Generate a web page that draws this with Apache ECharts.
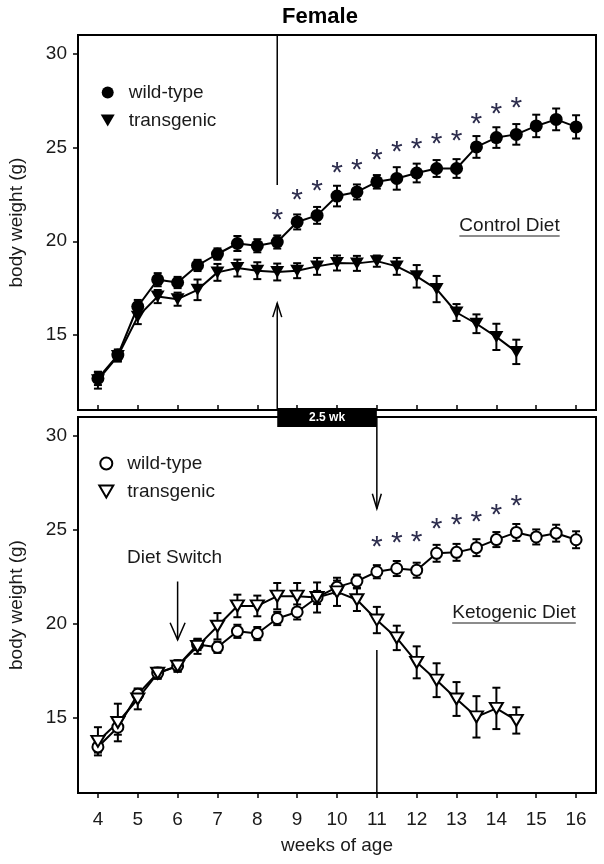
<!DOCTYPE html>
<html><head><meta charset="utf-8">
<script src="https://cdn.jsdelivr.net/npm/echarts@6/dist/echarts.min.js"></script>
<style>html,body{margin:0;padding:0;background:#fff}#c{width:604px;height:864px}</style>
</head><body><div id="c"></div>
<script>
// ---------- data ----------
const weeks = [4,4.5,5,5.5,6,6.5,7,7.5,8,8.5,9,9.5,10,10.5,11,11.5,12,12.5,13,13.5,14,14.5,15,15.5,16];
const tickWeeks = [4,5,6,7,8,9,10,11,12,13,14,15,16];
const tickWeights = [15,20,25,30];

// Control diet (top panel)
const wtControl    = [12.68,13.93,16.52,17.95,17.80,18.71,19.32,19.88,19.76,19.96,21.03,21.38,22.41,22.63,23.17,23.35,23.64,23.88,23.88,25.03,25.53,25.70,26.15,26.50,26.10];
const wtControlErr = [0.35,0.30,0.35,0.35,0.30,0.30,0.30,0.40,0.35,0.35,0.40,0.45,0.55,0.40,0.36,0.60,0.50,0.45,0.50,0.58,0.55,0.55,0.60,0.58,0.62];
const tgControl    = [12.59,13.88,15.98,17.05,16.91,17.41,18.34,18.57,18.43,18.36,18.43,18.66,18.84,18.82,18.94,18.66,18.13,17.45,16.20,15.60,14.90,14.10];
const tgControlErr = [0.45,0.30,0.40,0.35,0.35,0.55,0.45,0.45,0.45,0.45,0.40,0.45,0.40,0.40,0.30,0.45,0.60,0.70,0.45,0.50,0.70,0.65];
const starWeeksControl = [8.5,9,9.5,10,10.5,11,11.5,12,12.5,13,13.5,14,14.5];
const starYControl     = [21.54,22.57,23.07,24.03,24.20,24.74,25.13,25.31,25.56,25.73,26.66,27.16,27.49];

// Ketogenic diet (bottom panel)
const wtKeto    = [13.45,14.50,16.25,17.38,17.76,18.90,18.75,19.60,19.48,20.28,20.63,21.40,21.95,22.27,22.77,22.94,22.85,23.75,23.80,24.05,24.48,24.86,24.62,24.82,24.47];
const wtKetoErr = [0.30,0.40,0.30,0.25,0.30,0.30,0.30,0.35,0.35,0.35,0.40,0.35,0.35,0.35,0.35,0.40,0.40,0.45,0.45,0.45,0.40,0.45,0.40,0.45,0.45];
const tgKeto    = [13.75,14.75,16.00,17.37,17.75,18.80,19.87,20.95,20.95,21.47,21.47,21.40,21.70,21.28,20.20,19.25,17.95,17.00,16.00,15.05,15.50,14.86];
const tgKetoErr = [0.75,1.00,0.55,0.30,0.30,0.40,0.70,0.60,0.55,0.70,0.70,0.80,0.75,0.60,0.70,0.65,0.85,0.90,0.90,1.10,1.10,0.70];
const starWeeksKeto = [11,11.5,12,12.5,13,13.5,14,14.5];
const starYKeto     = [24.47,24.68,24.73,25.44,25.62,25.80,26.19,26.63];

// annotation anchors (data units)
const switchWeek = 8.5, tgDeclineWeek = 11, dietSwitchWeek = 6;

// ---------- chart ----------
const FONT = '"Liberation Sans", Arial, sans-serif';
const TXT = '#1a1a1a';
const TRI = 'path://M0,0 L14,0 L7,12 Z';
const chart = echarts.init(document.getElementById('c'), null, {renderer:'canvas'});

const pairs = (xs, ys) => ys.map((v,i)=>[xs[i], v]);
const errData = (xs, ys, es) => ys.map((v,i)=>[xs[i], v, es[i]]);

function errSeries(idx, data){
  return {type:'custom', xAxisIndex:idx, yAxisIndex:idx, data, encode:{x:0,y:1}, z:3, silent:true,
    renderItem(params, api){
      const x=api.value(0), y=api.value(1), e=api.value(2);
      const t=api.coord([x,y+e]), b=api.coord([x,y-e]);
      const cw=4, st={stroke:'#000', lineWidth:2};
      return {type:'group', children:[
        {type:'line', shape:{x1:t[0],y1:t[1],x2:b[0],y2:b[1]}, style:st},
        {type:'line', shape:{x1:t[0]-cw,y1:t[1],x2:t[0]+cw,y2:t[1]}, style:st},
        {type:'line', shape:{x1:b[0]-cw,y1:b[1],x2:b[0]+cw,y2:b[1]}, style:st}]};
    }};
}
function starSeries(idx, xs, ys){
  return {type:'scatter', xAxisIndex:idx, yAxisIndex:idx, data:pairs(xs,ys), symbolSize:2, silent:true,
    itemStyle:{color:'rgba(0,0,0,0)'}, z:6,
    label:{show:true, position:'inside', formatter:'*', fontSize:30, fontFamily:FONT, color:'#2e2e4e', opacity:1, offset:[0,8]}};
}
const st = {stroke:'#000', lineWidth:1.5};
function chevron(p, dir, hw, h){ // dir -1 = tip pointing up, +1 = down
  return {type:'polyline', shape:{points:[[p[0]-hw, p[1]-dir*h],[p[0],p[1]],[p[0]+hw, p[1]-dir*h]]}, style:{stroke:'#000', lineWidth:1.5, fill:null}};
}
const annotTop = {type:'custom', xAxisIndex:0, yAxisIndex:0, data:[[switchWeek, 20]], z:10, silent:true, clip:false,
  renderItem(params, api){
    const a=api.coord([switchWeek,31]), b=api.coord([switchWeek,23.0]);
    const c=api.coord([switchWeek,11]), d=api.coord([switchWeek,16.7]);
    const q=api.coord([tgDeclineWeek,11]);
    return {type:'group', children:[
      {type:'line', shape:{x1:a[0],y1:a[1],x2:b[0],y2:b[1]}, style:st},
      {type:'line', shape:{x1:c[0],y1:c[1],x2:d[0],y2:d[1]}, style:st},
      chevron(d, -1, 4.5, 14),
      {type:'rect', shape:{x:c[0], y:c[1]-2, width:q[0]-c[0], height:19}, style:{fill:'#000'}},
      {type:'text', x:(c[0]+q[0])/2, y:c[1]+7.5, style:{text:'2.5 wk', fill:'#fff', font:'bold 12px '+FONT, align:'center', verticalAlign:'middle'}}
    ]};
  }};
const annotBottom = {type:'custom', xAxisIndex:1, yAxisIndex:1, data:[[tgDeclineWeek, 20]], z:10, silent:true, clip:false,
  renderItem(params, api){
    const a=api.coord([tgDeclineWeek,31]), b=api.coord([tgDeclineWeek,26.12]);
    const c=api.coord([tgDeclineWeek,18.6]), d=api.coord([tgDeclineWeek,11]);
    const e=api.coord([dietSwitchWeek,22.25]), f=api.coord([dietSwitchWeek,19.15]);
    return {type:'group', children:[
      {type:'line', shape:{x1:a[0],y1:a[1],x2:b[0],y2:b[1]}, style:st},
      chevron(b, 1, 4.5, 15),
      {type:'line', shape:{x1:c[0],y1:c[1],x2:d[0],y2:d[1]}, style:st},
      {type:'line', shape:{x1:e[0],y1:e[1],x2:f[0],y2:f[1]}, style:st},
      chevron(f, 1, 7.5, 17)
    ]};
  }};

const ctx = document.createElement('canvas').getContext('2d');
function textW(t, f){ ctx.font = f; return ctx.measureText(t).width; }
const lblFont = '19px '+FONT;
function underlined(text, cx, cy){
  const w = textW(text, lblFont);
  return [
    {type:'text', x:cx, y:cy, style:{text, font:lblFont, fill:TXT, align:'center', verticalAlign:'middle'}},
    {type:'line', shape:{x1:cx-w/2, y1:cy+10, x2:cx+w/2, y2:cy+10}, style:{stroke:TXT, lineWidth:1.2}}
  ];
}

function xAxis(idx, bottom){
  return {gridIndex:idx, type:'value', min:3.5, max:16.5,
    axisLine:{show:true, lineStyle:{color:'#000', width:2}},
    axisTick:{show:true, inside:!bottom, length:5, customValues:tickWeeks, lineStyle:{color:'#000', width:1.5}},
    axisLabel:bottom ? {show:true, customValues:tickWeeks, fontSize:19, fontFamily:FONT, color:TXT, margin:17} : {show:false},
    splitLine:{show:false},
    name: bottom ? 'weeks of age' : '', nameLocation:'middle', nameGap:43,
    nameTextStyle:{fontSize:19, fontFamily:FONT, color:TXT}};
}
function yAxis(idx){
  return {gridIndex:idx, type:'value', min:11, max:31,
    axisLine:{show:true, lineStyle:{color:'#000', width:2}},
    axisTick:{show:true, length:5, customValues:tickWeights, lineStyle:{color:'#000', width:1.5}},
    axisLabel:{customValues:tickWeights, fontSize:19, fontFamily:FONT, color:TXT, margin:11},
    splitLine:{show:false},
    name:'body weight (g)', nameLocation:'middle', nameGap:52,
    nameTextStyle:{fontSize:19, fontFamily:FONT, color:TXT}};
}
const openStyle = {color:'#fff', borderColor:'#000', borderWidth:2};

chart.setOption({
  animation:false,
  backgroundColor:'#fff',
  grid:[
    {left:78, width:518, top:35, height:375, show:true, borderColor:'#000', borderWidth:2, backgroundColor:'transparent', outerBoundsMode:'none'},
    {left:78, width:518, top:417, height:376, show:true, borderColor:'#000', borderWidth:2, backgroundColor:'transparent', outerBoundsMode:'none'}
  ],
  xAxis:[xAxis(0,false), xAxis(1,true)],
  yAxis:[yAxis(0), yAxis(1)],
  legend:[
    {orient:'vertical', left:95.7, top:78, itemWidth:32, itemHeight:12, itemGap:9, selectedMode:false,
     textStyle:{fontSize:19, fontFamily:FONT, color:TXT},
     data:[{name:'wild-type', icon:'circle'}, {name:'transgenic', icon:TRI}]},
    {orient:'vertical', left:93.3, top:449, itemWidth:32, itemHeight:12, itemGap:9, selectedMode:false,
     textStyle:{fontSize:19, fontFamily:FONT, color:TXT},
     data:[{name:'wild-type ', icon:'circle', itemStyle:openStyle}, {name:'transgenic ', icon:TRI, itemStyle:openStyle}]}
  ],
  graphic:[
    {type:'text', x:320, y:17, style:{text:'Female', font:'bold 22px '+FONT, fill:'#000', align:'center', verticalAlign:'middle'}},
    ...underlined('Control Diet', 509.5, 226),
    ...underlined('Ketogenic Diet', 514, 613),
    {type:'text', x:174.5, y:558, style:{text:'Diet Switch', font:lblFont, fill:TXT, align:'center', verticalAlign:'middle'}}
  ],
  series:[
    errSeries(0, errData(weeks, wtControl, wtControlErr)),
    errSeries(0, errData(weeks, tgControl, tgControlErr)),
    {type:'line', name:'wild-type', xAxisIndex:0, yAxisIndex:0, data:pairs(weeks, wtControl),
     symbol:'circle', symbolSize:13, lineStyle:{color:'#000', width:2}, itemStyle:{color:'#000'}, z:5},
    {type:'line', name:'transgenic', xAxisIndex:0, yAxisIndex:0, data:pairs(weeks, tgControl),
     symbol:TRI, symbolSize:[14,12], lineStyle:{color:'#000', width:2}, itemStyle:{color:'#000'}, z:5},
    starSeries(0, starWeeksControl, starYControl),
    annotTop,
    errSeries(1, errData(weeks, wtKeto, wtKetoErr)),
    errSeries(1, errData(weeks, tgKeto, tgKetoErr)),
    {type:'line', name:'wild-type ', xAxisIndex:1, yAxisIndex:1, data:pairs(weeks, wtKeto),
     symbol:'circle', symbolSize:11, lineStyle:{color:'#000', width:2}, itemStyle:openStyle, z:5},
    {type:'line', name:'transgenic ', xAxisIndex:1, yAxisIndex:1, data:pairs(weeks, tgKeto),
     symbol:TRI, symbolSize:[13,11], lineStyle:{color:'#000', width:2}, itemStyle:openStyle, z:5},
    starSeries(1, starWeeksKeto, starYKeto),
    annotBottom
  ]
});
</script></body></html>
